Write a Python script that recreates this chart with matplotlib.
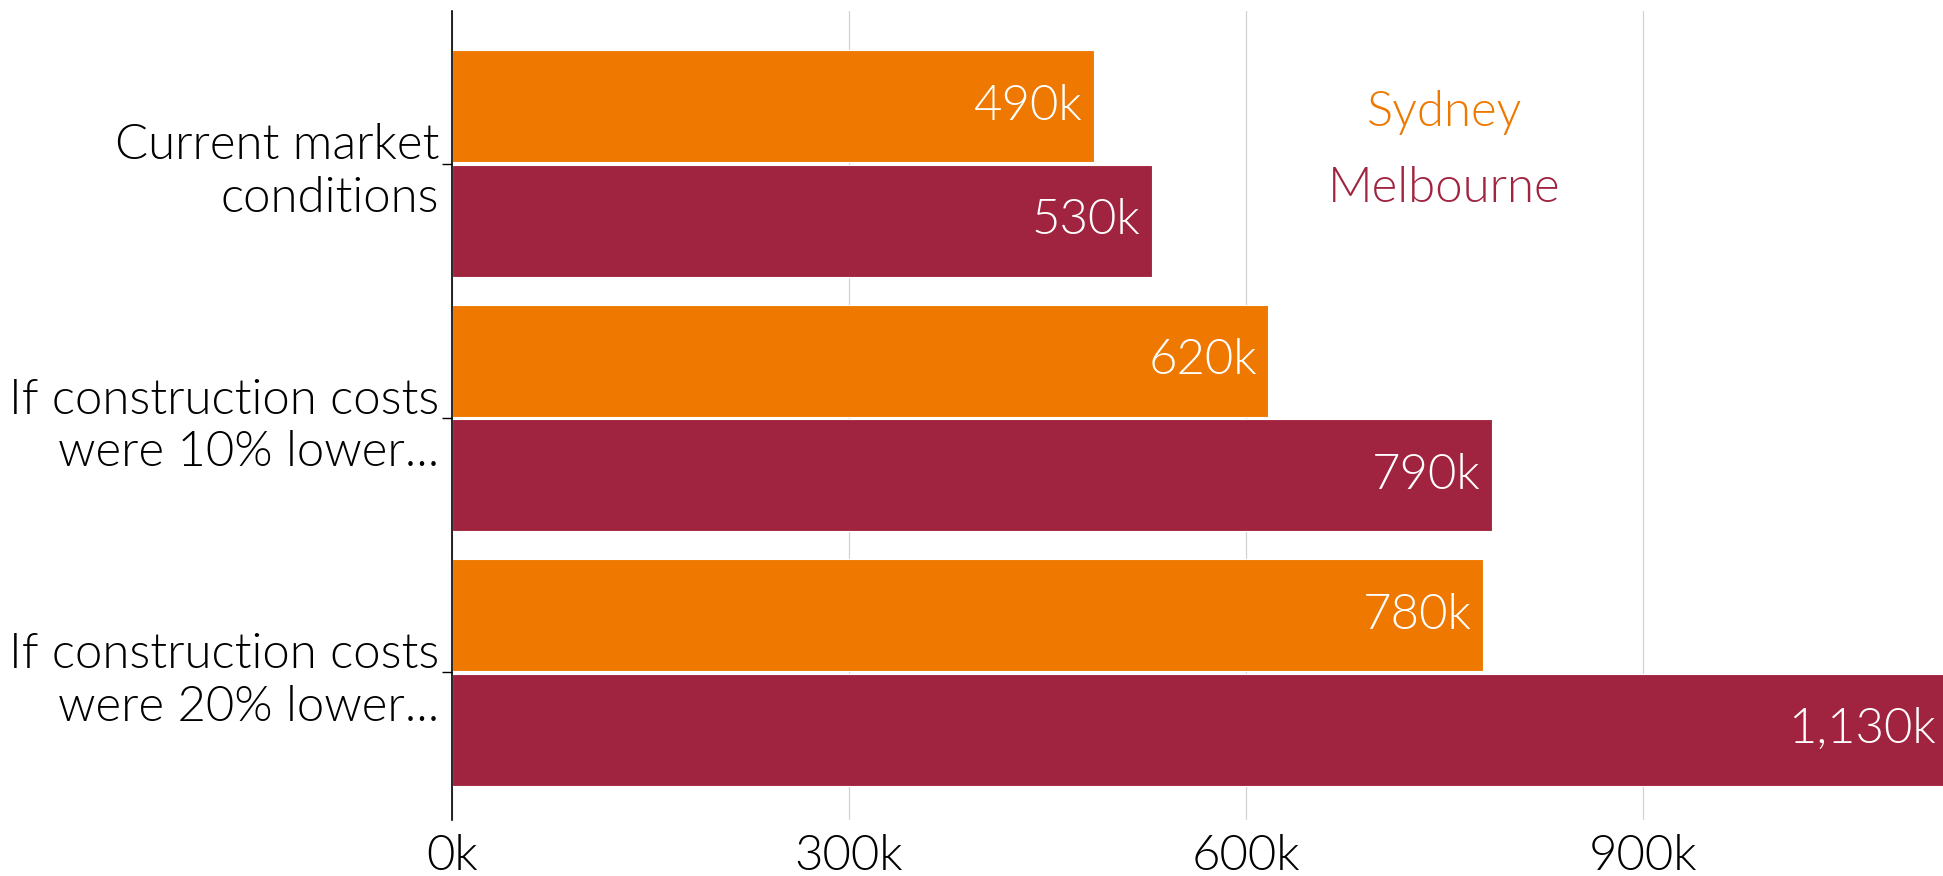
import numpy as np
import matplotlib.pyplot as plt

plt.rcParams['font.family'] = ['Lato', 'DejaVu Sans']
plt.rcParams['font.weight'] = 300

# data (thousands of dollars)
scenarios = ["Current market\nconditions",
             "If construction costs\nwere 10% lower...",
             "If construction costs\nwere 20% lower..."]
sydney = [485, 617, 779]
melbourne = [529, 786, 1130]
sydney_labels = ["490k", "620k", "780k"]
melbourne_labels = ["530k", "790k", "1,130k"]
xticks = [0, 300, 600, 900]
xtick_labels = ["0k", "300k", "600k", "900k"]

orange = "#EE7800"
crimson = "#A0243F"
fs = 17.7

fig = plt.figure(figsize=(9.715, 4.38), dpi=200)
ax = fig.add_axes([0.2326, 0.0639, 0.7674, 0.9235])

y = np.arange(len(scenarios))
h = 0.44
ax.barh(y - 0.225, sydney, height=h, color=orange, edgecolor="white", linewidth=0.4, zorder=2)
ax.barh(y + 0.225, melbourne, height=h, color=crimson, edgecolor="white", linewidth=0.4, zorder=2)

for yy, v, lab in zip(y - 0.225, sydney, sydney_labels):
    ax.annotate(lab, (v, yy), xytext=(-4, 0), textcoords="offset points",
                ha="right", va="center", color="white", fontsize=fs, zorder=3)
for yy, v, lab in zip(y + 0.225, melbourne, melbourne_labels):
    ax.annotate(lab, (v, yy), xytext=(-4, 0), textcoords="offset points",
                ha="right", va="center", color="white", fontsize=fs, zorder=3,
                annotation_clip=False)

# legend as coloured text
ax.text(750, -0.15, "Sydney", color=orange, fontsize=fs, ha="center", va="baseline")
ax.text(750, 0.15, "Melbourne", color=crimson, fontsize=fs, ha="center", va="baseline")

ax.set_xlim(0, 1127)
ax.set_ylim(2.58, -0.6)
ax.set_xticks(xticks)
ax.set_xticklabels(xtick_labels, fontsize=fs)
ax.set_yticks(y)
ax.set_yticklabels(scenarios, fontsize=fs, linespacing=1.22)

ax.tick_params(axis="x", length=0, pad=5)
ax.tick_params(axis="y", length=3.5, width=0.5, pad=1)
ax.grid(axis="x", color="#D3D3D3", linewidth=0.45, zorder=0)
ax.set_axisbelow(True)

for s in ["top", "right", "bottom"]:
    ax.spines[s].set_visible(False)
ax.spines["left"].set_linewidth(0.6)
ax.spines["left"].set_zorder(4)

fig.savefig("out.png", dpi=200)
